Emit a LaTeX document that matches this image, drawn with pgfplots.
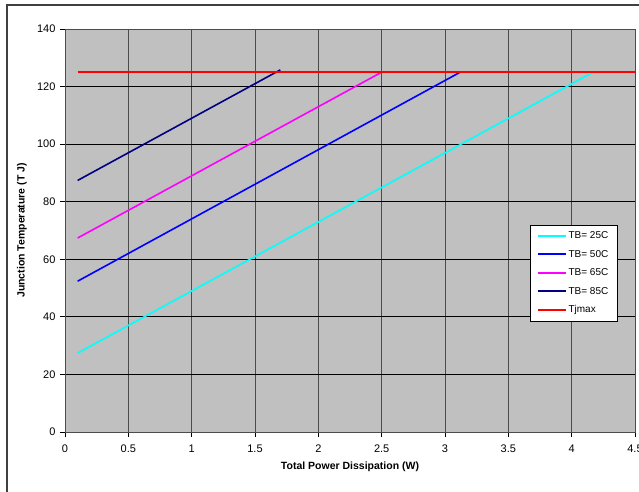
\documentclass[border=0pt]{standalone}
\usepackage{pgfplots}
\pgfplotsset{compat=1.18}
\usepackage{fontspec}
\setmainfont{Liberation Sans}
\definecolor{bggray}{HTML}{C0C0C0}
\definecolor{navyb}{RGB}{0,0,128}
\definecolor{cyanb}{RGB}{0,255,255}
\definecolor{blueb}{RGB}{0,0,255}
\definecolor{magb}{RGB}{255,0,255}
\definecolor{redb}{RGB}{255,0,0}
\begin{document}
\begin{tikzpicture}
\useasboundingbox (-65pt,-59pt) rectangle (574pt,432pt);
\draw[black!75, line width=1.3pt] (-58pt,-80pt) -- (-58pt,427pt) -- (700pt,427pt);
\begin{axis}[
  at={(0,0)}, anchor=south west,
  width=570pt, height=403pt, scale only axis,
  xmin=0, xmax=4.5, ymin=0, ymax=140,
  xtick={0,0.5,1,1.5,2,2.5,3,3.5,4,4.5},
  ytick={0,20,40,60,80,100,120,140},
  axis background/.style={fill=bggray},
  axis line style={black!70, line width=0.8pt},
  grid=major,
  x grid style={black!70, line width=0.9pt},
  y grid style={black, line width=0.8pt},
  tick align=outside, major tick length=5pt,
  tick style={black, line width=0.8pt},
  xtick pos=bottom, ytick pos=left,
  /pgf/number format/assume math mode=true,
  tick label style={font=\fontsize{11}{13}\selectfont},
  xticklabel style={yshift=-4pt},
  yticklabel style={xshift=-1pt},
  xlabel={\bfseries Total Power Dissipation (W)},
  ylabel={\bfseries Junction Temperature (T J)},
  xlabel style={at={(axis description cs:0.5,-0.0868)}, anchor=center, font=\fontsize{10.5}{12}\selectfont},
  ylabel style={at={(axis description cs:-0.0754,0.5)}, anchor=center, rotate=0, font=\fontsize{10.5}{12}\selectfont},
  legend style={at={(0.9684,0.5136)}, anchor=north east, draw=black, fill=white,
    font=\fontsize{10}{11}\selectfont, row sep=7pt, inner xsep=7pt, inner ysep=5pt,
    nodes={inner sep=1.5pt}},
  legend cell align=left,
  legend image code/.code={\draw[#1, line width=2pt] (0pt,0pt) -- (28pt,0pt);},
  clip=false,
]
\addplot[cyanb, line width=1.6pt] coordinates {(0.1,27.4) (4.17,125)};
\addlegendentry{TB= 25C}
\addplot[blueb, line width=1.6pt] coordinates {(0.1,52.4) (3.12,125)};
\addlegendentry{TB= 50C}
\addplot[magb, line width=1.6pt] coordinates {(0.1,67.4) (2.5,125)};
\addlegendentry{TB= 65C}
\addplot[navyb, line width=1.6pt] coordinates {(0.1,87.4) (1.7,125.8)};
\addlegendentry{TB= 85C}
\addplot[redb, line width=1.6pt] coordinates {(0.1,125) (4.5,125)};
\addlegendentry{Tjmax}
\end{axis}
\end{tikzpicture}
\end{document}
